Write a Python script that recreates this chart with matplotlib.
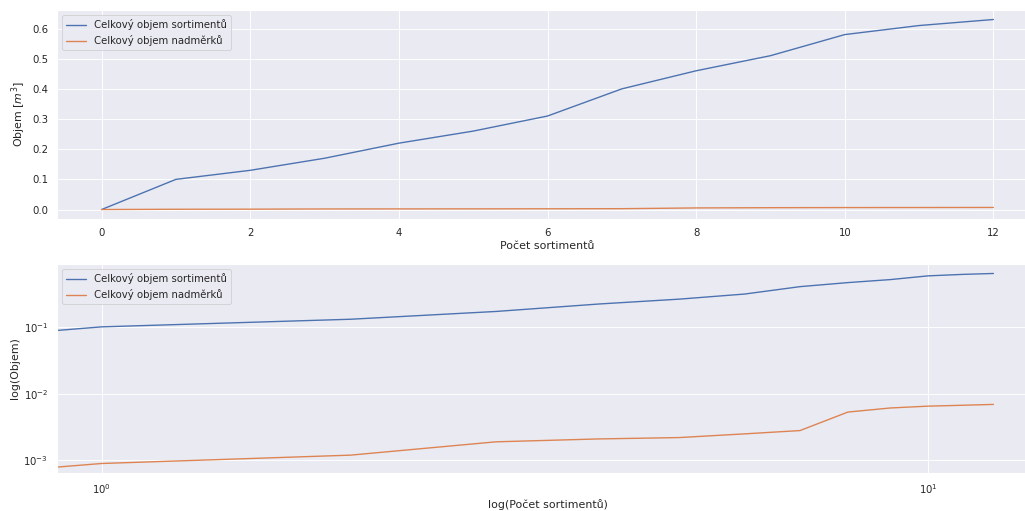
import numpy as np
import matplotlib
matplotlib.use("Agg")
import matplotlib.pyplot as plt
import seaborn as sns

pocet = [0, 1, 2, 3, 4, 5, 6, 7, 8, 9, 10, 11, 12]
objem_sortimentu = [0.0, 0.10, 0.13, 0.17, 0.22, 0.26, 0.31, 0.40, 0.46, 0.51, 0.58, 0.61, 0.63]
objem_nadmerku = [0.0, 0.0009, 0.0012, 0.0019, 0.0021, 0.0022, 0.0025, 0.0028,
                  0.0053, 0.0061, 0.0065, 0.0067, 0.0069]

sns.set_theme()

dpi = 66
fig, (ax1, ax2) = plt.subplots(2, 1, figsize=(1025 / dpi, 511 / dpi), dpi=dpi)

ax1.plot(pocet, objem_sortimentu, label="Celkový objem sortimentů")
ax1.plot(pocet, objem_nadmerku, label="Celkový objem nadměrků")
ax1.set_xlabel("Počet sortimentů")
ax1.set_ylabel("Objem [$m^3$]")
ax1.legend(loc="upper left")

ax2.loglog(pocet, objem_sortimentu, label="Celkový objem sortimentů")
ax2.loglog(pocet, objem_nadmerku, label="Celkový objem nadměrků")
ax2.set_xlabel("log(Počet sortimentů)")
ax2.set_ylabel("log(Objem)")
ax2.legend(loc="upper left")

# the original image is cropped on the right, so the axes run past the edge
fig.subplots_adjust(left=57 / 1025, right=1038 / 1025, top=1 - 10 / 511,
                    bottom=1 - 473 / 511, hspace=0.215)
plt.savefig("out.png")
